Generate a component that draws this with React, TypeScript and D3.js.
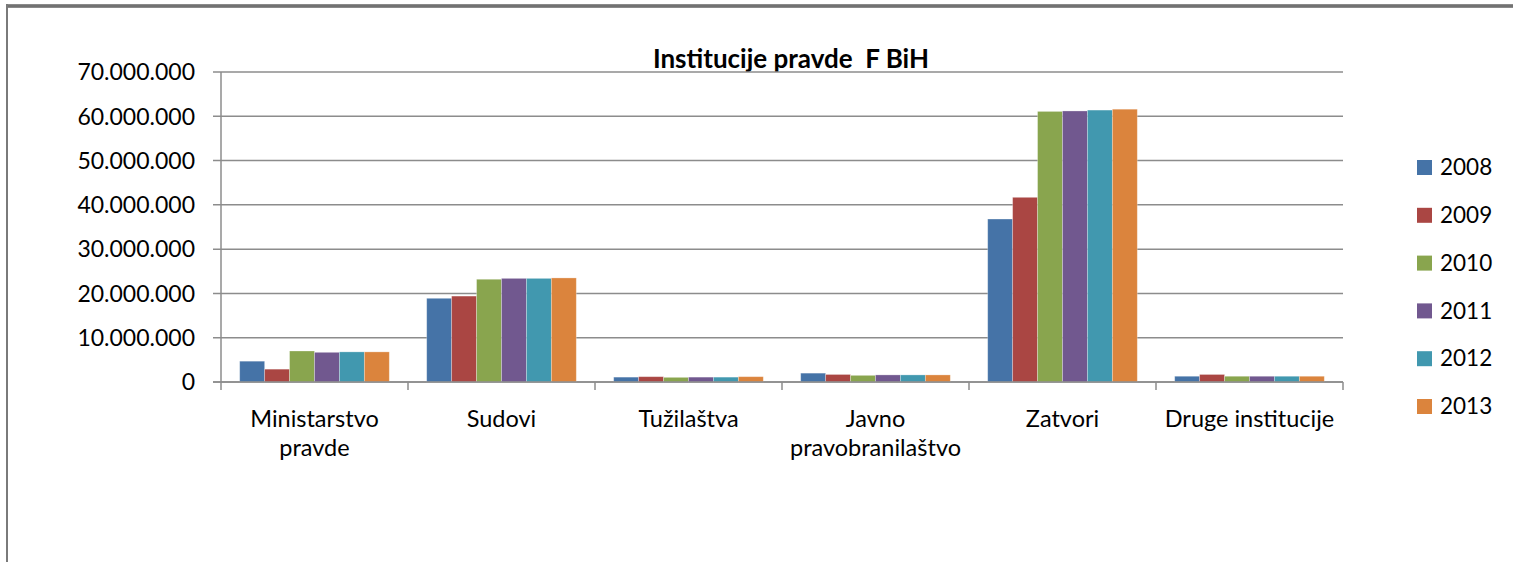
import React from 'react';
import * as d3 from 'd3';

const categories = ['Ministarstvo pravde', 'Sudovi', 'Tužilaštva', 'Javno pravobranilaštvo', 'Zatvori', 'Druge institucije'];
const categoryLines = [['Ministarstvo', 'pravde'], ['Sudovi'], ['Tužilaštva'], ['Javno', 'pravobranilaštvo'], ['Zatvori'], ['Druge institucije']];
const years = ['2008', '2009', '2010', '2011', '2012', '2013'];
const colors = ['#4573A7', '#AA4643', '#89A54E', '#71588F', '#4198AF', '#DB843D'];

// values per year, in category order
const v2008 = [4700000, 18900000, 1100000, 2000000, 36800000, 1300000];
const v2009 = [2900000, 19400000, 1200000, 1700000, 41700000, 1700000];
const v2010 = [7000000, 23200000, 1050000, 1500000, 61100000, 1300000];
const v2011 = [6700000, 23400000, 1100000, 1600000, 61200000, 1300000];
const v2012 = [6800000, 23400000, 1100000, 1600000, 61400000, 1300000];
const v2013 = [6800000, 23500000, 1200000, 1600000, 61600000, 1300000];
const series = [v2008, v2009, v2010, v2011, v2012, v2013];

const yTicks = [0, 10000000, 20000000, 30000000, 40000000, 50000000, 60000000, 70000000];

const W = 1513;
const H = 562;
const font = 'Lato, "Open Sans", sans-serif';

const locale = d3.formatLocale({ decimal: ',', thousands: '.', grouping: [3], currency: ['', ''] });
const fmt = locale.format(',d');

const App: React.FC = () => {
  const left = 221;
  const right = 1343;
  const top = 72;
  const bottom = 382;

  const x0 = d3.scaleBand<string>().domain(categories).range([left, right]).padding(0);
  const x1 = d3
    .scaleBand<string>()
    .domain(years)
    .range([0, x0.bandwidth()])
    .paddingInner(0)
    .paddingOuter(0.75);
  const y = d3.scaleLinear().domain([0, 70000000]).range([bottom, top]);

  return (
    <svg width={W} height={H} style={{ position: 'absolute', left: 0, top: 0, background: '#fff' }}>
      {/* frame */}
      <line x1={7} x2={W} y1={6} y2={6} stroke="#8a8a8a" strokeWidth={4} />
      <line x1={7} x2={W} y1={6} y2={6} stroke="#5a5a5a" strokeWidth={1.2} />
      <line x1={7} x2={7} y1={4} y2={H} stroke="#7a7a7a" strokeWidth={2} />

      {/* title */}
      <text x={791} y={68} textAnchor="middle" fontFamily={font} fontWeight="bold" fontSize={26} fill="#000">
        Institucije pravde{'\u00a0\u00a0'}F BiH
      </text>

      {/* gridlines + y ticks */}
      {yTicks.map((t) => (
        <g key={t}>
          <line x1={left - 8} x2={right} y1={y(t)} y2={y(t)} stroke="#8c8c8c" strokeWidth={1.5} />
          <text
            x={195}
            y={y(t)}
            dy="0.36em"
            textAnchor="end"
            fontFamily={font}
            fontSize={23}
            fill="#000"
          >
            {fmt(t)}
          </text>
        </g>
      ))}

      {/* bars */}
      {series.map((vals, si) =>
        vals.map((v, ci) => (
          <rect
            key={`${si}-${ci}`}
            x={(x0(categories[ci]) as number) + (x1(years[si]) as number)}
            y={y(v)}
            width={x1.bandwidth()}
            height={bottom - y(v)}
            fill={colors[si]}
            stroke="rgba(255,255,255,0.35)"
            strokeWidth={0.8}
          />
        ))
      )}

      {/* axes */}
      <line x1={left} x2={left} y1={top} y2={bottom + 8} stroke="#8c8c8c" strokeWidth={1.5} />
      <line x1={left - 8} x2={right} y1={bottom} y2={bottom} stroke="#8c8c8c" strokeWidth={1.5} />
      {categories.map((c) => (
        <line
          key={c}
          x1={(x0(c) as number) + x0.bandwidth()}
          x2={(x0(c) as number) + x0.bandwidth()}
          y1={bottom}
          y2={bottom + 8}
          stroke="#8c8c8c"
          strokeWidth={1.5}
        />
      ))}

      {/* category labels */}
      {categories.map((c, ci) => (
        <text
          key={c}
          x={(x0(c) as number) + x0.bandwidth() / 2}
          y={427}
          textAnchor="middle"
          fontFamily={font}
          fontSize={23.5}
          fill="#000"
        >
          {categoryLines[ci].map((ln, li) => (
            <tspan key={li} x={(x0(c) as number) + x0.bandwidth() / 2} dy={li === 0 ? 0 : 29}>
              {ln}
            </tspan>
          ))}
        </text>
      ))}

      {/* legend */}
      {years.map((yr, i) => (
        <g key={yr} transform={`translate(1417, ${167 + i * 47.8})`}>
          <rect x={0} y={-7} width={15} height={15} fill={colors[i]} />
          <text x={23} y={0} dy="0.36em" fontFamily={font} fontSize={22.5} fill="#000">
            {yr}
          </text>
        </g>
      ))}
    </svg>
  );
};

export default App;
